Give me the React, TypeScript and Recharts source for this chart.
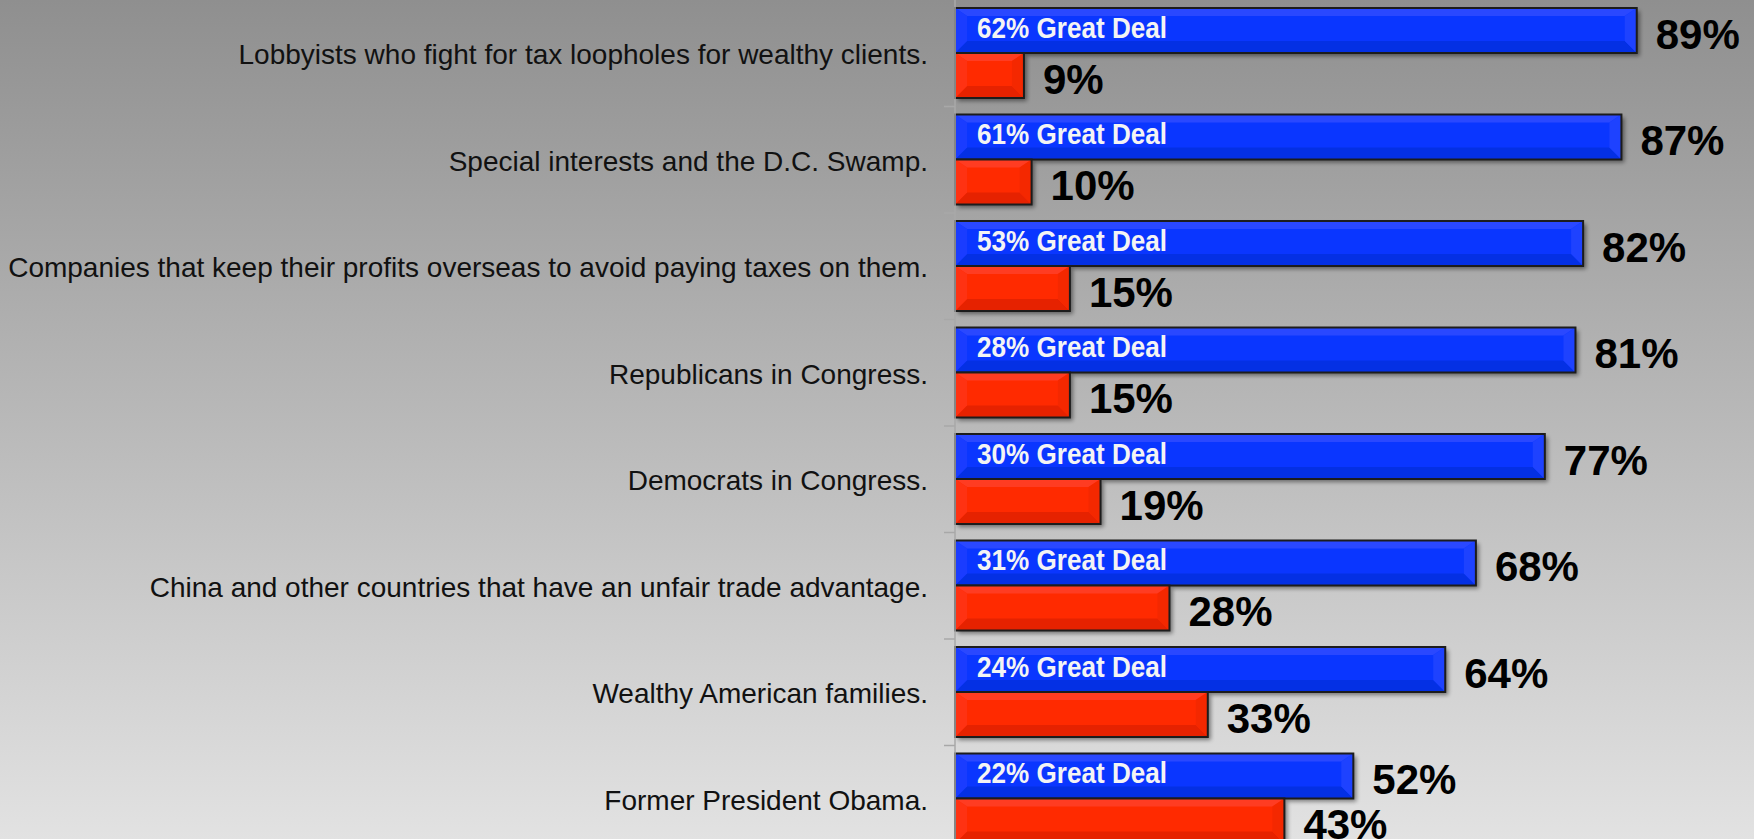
import React from 'react';
import { BarChart, Bar, XAxis, YAxis, LabelList } from 'recharts';

const categories = [
  'Lobbyists who fight for tax loopholes for wealthy clients.',
  'Special interests and the D.C. Swamp.',
  'Companies that keep their profits overseas to avoid paying taxes on them.',
  'Republicans in Congress.',
  'Democrats in Congress.',
  'China and other countries that have an unfair trade advantage.',
  'Wealthy American families.',
  'Former President Obama.',
];
const concerned = [89, 87, 82, 81, 77, 68, 64, 52];
const notConcerned = [9, 10, 15, 15, 19, 28, 33, 43];
const greatDeal = [62, 61, 53, 28, 30, 31, 24, 22];

const data = categories.map((name, i) => ({
  name,
  concerned: concerned[i],
  notConcerned: notConcerned[i],
  greatDeal: greatDeal[i],
}));

const CHART_W = 1754;
const CHART_H = 852;
const BAND_HALF = CHART_H / categories.length / 2;
const FONT = "'Liberation Sans', Arial, Helvetica, sans-serif";

const BLUE = { main: '#0a36ff', top: '#2a48ff', bottom: '#0430e4', left: '#1a3cff', right: '#1e42ff' };
const RED = { main: '#ff2a00', top: '#ff3c22', bottom: '#e62200', left: '#ff3212', right: '#f42800' };

const bevelBar = (pal: typeof BLUE) => (props: any) => {
  const { x, y, width, height } = props;
  if (!width || width <= 0) return <g />;
  const b = Math.min(12, width / 2);
  const t = 8;
  const bt = 12;
  const r = x + width;
  const btm = y + height;
  return (
    <g>
      <rect x={x} y={y} width={width} height={height} fill="#000" filter="url(#barShadow)" />
      <rect x={x} y={y} width={width} height={height} fill={pal.main} />
      <polygon points={`${x},${y} ${r},${y} ${r - b},${y + t} ${x + b},${y + t}`} fill={pal.top} />
      <polygon points={`${x},${btm} ${r},${btm} ${r - b},${btm - bt} ${x + b},${btm - bt}`} fill={pal.bottom} />
      <polygon points={`${x},${y} ${x + b},${y + t} ${x + b},${btm - bt} ${x},${btm}`} fill={pal.left} />
      <polygon points={`${r},${y} ${r - b},${y + t} ${r - b},${btm - bt} ${r},${btm}`} fill={pal.right} />
      <rect x={x} y={y} width={width} height={height} fill="none" stroke="#1c1c1c" strokeWidth={2} />
    </g>
  );
};

const CategoryTick = (props: any) => {
  const { x, y, payload } = props;
  return (
    <g>
      <text x={x} y={y + 11} textAnchor="end" fontFamily={FONT} fontSize={28} fill="#111">
        {payload.value}
      </text>
      <line x1={x + 16} x2={x + 27} y1={y + BAND_HALF} y2={y + BAND_HALF} stroke="#a8a8a8" strokeWidth={1.5} />
    </g>
  );
};

const ValueLabel = (props: any) => {
  const { x, y, width, height, value } = props;
  return (
    <text x={x + width + 19} y={y + height / 2 + 18} fontFamily={FONT} fontWeight="bold" fontSize={42} fill="#000">
      {`${value}%`}
    </text>
  );
};

const GreatDealLabel = (props: any) => {
  const { x, y, height, value } = props;
  return (
    <text
      x={x + 22}
      y={y + height / 2 + 7}
      fontFamily={FONT}
      fontWeight="bold"
      fontSize={29}
      fill="#f4f4f4"
      textLength={190}
      lengthAdjust="spacingAndGlyphs"
    >
      {`${value}% Great Deal`}
    </text>
  );
};

export default function App() {
  return (
    <div
      style={{
        position: 'fixed',
        left: 0,
        top: 0,
        width: CHART_W,
        height: 839,
        overflow: 'hidden',
        background: 'linear-gradient(#8f8f8f, #e2e2e2)',
      }}
    >
      <BarChart
        width={CHART_W}
        height={CHART_H}
        data={data}
        layout="vertical"
        margin={{ top: 0, right: 33, bottom: 0, left: 0 }}
        barCategoryGap={8}
        barGap={0}
      >
        <defs>
          <filter id="barShadow" x="-5%" y="-20%" width="115%" height="160%">
            <feGaussianBlur in="SourceAlpha" stdDeviation="2" />
            <feOffset dx="3" dy="3" />
            <feComponentTransfer>
              <feFuncA type="linear" slope="0.45" />
            </feComponentTransfer>
          </filter>
        </defs>
        <XAxis type="number" domain={[0, 100]} hide />
        <YAxis
          type="category"
          dataKey="name"
          width={955}
          axisLine={{ stroke: '#a8a8a8', strokeWidth: 1.5 }}
          tickLine={false}
          tickSize={0}
          tickMargin={27}
          tick={<CategoryTick />}
          interval={0}
        />
        <Bar dataKey="concerned" name="Concerned" fill={BLUE.main} shape={bevelBar(BLUE)} isAnimationActive={false}>
          <LabelList dataKey="concerned" content={<ValueLabel />} />
          <LabelList dataKey="greatDeal" content={<GreatDealLabel />} />
        </Bar>
        <Bar dataKey="notConcerned" name="Not concerned" fill={RED.main} shape={bevelBar(RED)} isAnimationActive={false}>
          <LabelList dataKey="notConcerned" content={<ValueLabel />} />
        </Bar>
      </BarChart>
    </div>
  );
}
